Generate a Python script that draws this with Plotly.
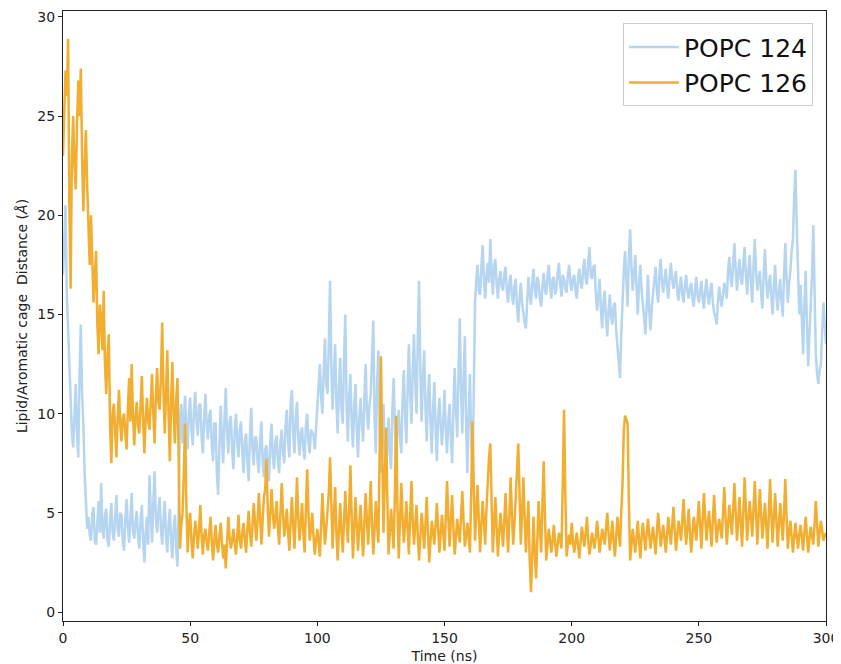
import plotly.graph_objects as go

# POPC 124 distance (Å) at whole ns 0..300
popc124 = [
    17.0, 20.5, 14.0, 11.0, 8.3, 11.5, 7.8, 14.5, 9.5, 5.4,
    4.8, 3.6, 5.3, 3.4, 5.6, 6.5, 3.7, 5.2, 3.3, 5.5,
    3.6, 5.9, 3.8, 4.9, 3.1, 5.7, 3.5, 6.0, 3.7, 5.1,
    3.2, 5.4, 2.5, 4.8, 6.9, 3.5, 7.1, 4.0, 5.8, 3.4,
    5.6, 3.0, 5.2, 2.7, 4.9, 2.3, 9.8, 8.5, 10.9, 8.2,
    10.8, 8.4, 11.1, 8.9, 10.5, 8.0, 11.0, 8.7, 10.2, 7.6,
    9.5, 5.9, 10.4, 7.5, 11.3, 8.0, 9.9, 7.2, 10.0, 7.8,
    9.6, 7.0, 9.0, 6.6, 10.3, 7.4, 8.8, 7.0, 9.6, 6.8,
    8.4, 6.6, 9.5, 7.2, 8.9, 7.0, 9.2, 7.5, 10.2, 7.8,
    11.2, 8.0, 10.6, 7.9, 9.3, 7.7, 10.0, 8.0, 9.0, 8.2,
    9.8, 12.5, 10.0, 13.8, 11.0, 16.7, 10.2, 13.5, 9.0, 12.8,
    9.5, 15.0, 8.6, 12.0, 8.3, 11.5, 7.8, 10.8, 8.6, 12.5,
    9.2, 11.0, 14.7, 8.0, 13.2, 7.0, 10.5, 6.6, 9.8, 7.2,
    11.8, 7.5, 10.2, 8.0, 12.2, 8.5, 13.5, 9.5, 14.0, 10.0,
    16.7, 9.6, 13.2, 8.6, 12.0, 8.0, 11.6, 7.6, 10.8, 8.4,
    11.2, 8.0, 10.5, 7.5, 12.3, 8.8, 14.8, 9.0, 13.9, 7.0,
    12.0, 6.8, 15.5, 17.5, 16.0, 18.5, 15.8, 17.6, 18.8, 16.0,
    17.8, 15.8, 17.2, 16.2, 17.4, 15.6, 17.0, 15.5, 16.8, 14.6,
    16.6, 15.0, 14.3, 16.9, 15.5, 17.3, 15.8, 16.6, 15.4, 17.1,
    16.0, 17.5, 15.8, 16.9, 16.3, 17.6, 15.9, 16.8, 16.1, 17.5,
    16.2, 17.0, 15.8, 17.3, 16.3, 17.8, 16.5, 18.4, 16.8, 17.5,
    15.2, 16.8, 14.3, 16.2, 13.9, 16.0, 14.5, 15.6, 13.5, 11.8,
    16.0, 18.2, 15.4, 19.3, 16.2, 18.0, 15.0, 17.5, 15.6, 14.0,
    17.0, 14.2, 16.0, 17.4, 15.6, 17.8, 16.1, 17.3, 15.8, 17.6,
    16.3, 17.2, 15.7, 16.9, 15.6, 17.0, 15.8, 16.6, 15.4, 16.9,
    15.6, 16.7, 15.3, 16.8, 15.5, 16.6, 15.1, 14.5, 16.4, 15.4,
    16.6, 15.8, 17.9, 16.4, 18.6, 16.2, 17.8, 16.5, 18.4, 16.0,
    18.0, 15.6, 18.8, 16.2, 17.2, 15.3, 18.3, 15.8, 17.0, 15.0,
    17.5, 15.2, 16.8, 14.9, 18.6, 15.6, 17.2, 18.8, 22.3, 17.0,
    16.5, 13.0, 17.2, 12.4, 15.5, 19.5, 13.0, 11.5, 12.5, 15.6, 13.5,
]

# POPC 124 distance (Å) at half ns 0.5..299.5
popc124_half = [
    18.5, 16.0, 12.5, 9.0, 10.2, 9.0, 12.0, 11.0, 7.0, 4.2,
    3.9, 4.9, 3.6, 4.8, 4.0, 4.2, 4.9, 3.6, 4.6, 4.0,
    4.8, 4.2, 5.0, 3.6, 4.6, 4.3, 4.8, 4.1, 4.5, 3.8,
    4.6, 3.6, 4.0, 3.4, 5.2, 5.5, 4.8, 5.0, 4.2, 4.6,
    3.8, 4.4, 3.6, 4.2, 3.2, 5.5, 10.5, 9.8, 9.0, 10.1,
    9.2, 10.2, 9.6, 10.4, 8.8, 9.8, 9.4, 9.9, 8.4, 9.5,
    7.0, 8.4, 8.6, 9.8, 9.0, 9.6, 8.2, 9.1, 8.6, 9.2,
    8.0, 8.6, 7.5, 8.9, 8.2, 8.8, 7.6, 8.7, 7.5, 8.2,
    7.4, 8.6, 7.8, 8.5, 7.6, 8.6, 8.0, 9.4, 8.6, 10.5,
    9.0, 9.8, 8.8, 9.0, 8.2, 9.4, 8.6, 9.2, 8.9, 9.3,
    11.2, 10.8, 12.2, 11.5, 13.5, 12.5, 12.0, 10.5, 11.4, 10.2,
    12.8, 10.5, 10.8, 9.6, 10.4, 9.2, 9.8, 9.4, 10.8, 10.0,
    10.4, 12.8, 9.8, 11.5, 9.5, 8.8, 8.2, 8.5, 8.0, 10.2,
    9.5, 9.4, 8.8, 10.6, 10.0, 11.2, 11.0, 12.2, 11.6, 13.8,
    12.2, 11.8, 10.4, 10.8, 9.6, 10.2, 9.2, 9.8, 9.4, 9.6,
    9.2, 9.6, 8.8, 10.2, 10.2, 12.0, 11.2, 11.8, 9.5, 10.0,
    8.8, 11.0, 16.8, 16.2, 17.4, 16.8, 17.0, 16.6, 17.2, 17.4,
    16.5, 16.8, 16.4, 17.0, 16.2, 16.6, 16.0, 16.4, 15.4, 15.8,
    15.6, 14.6, 15.8, 16.0, 16.6, 16.2, 16.9, 15.8, 16.4, 16.2,
    17.0, 16.4, 16.8, 16.0, 17.1, 16.5, 17.0, 16.3, 17.0, 16.6,
    16.8, 16.2, 16.8, 16.6, 17.2, 16.8, 17.6, 17.0, 17.4, 16.0,
    16.0, 15.2, 15.6, 14.8, 15.2, 14.9, 15.4, 14.2, 12.6, 14.0,
    17.2, 16.4, 18.0, 17.4, 17.0, 16.4, 16.6, 16.2, 14.8, 15.8,
    15.2, 15.4, 16.8, 16.2, 17.0, 16.6, 16.8, 16.4, 16.9, 16.8,
    16.8, 16.2, 16.4, 16.0, 16.4, 16.2, 16.3, 15.8, 16.2, 16.0,
    16.2, 15.8, 16.2, 15.9, 16.2, 15.6, 14.9, 15.6, 15.8, 16.0,
    16.2, 17.2, 16.8, 17.6, 17.2, 17.2, 16.8, 17.6, 17.0, 17.2,
    16.6, 17.4, 17.2, 16.8, 16.0, 17.0, 16.8, 16.5, 15.9, 16.4,
    16.0, 16.2, 15.6, 17.0, 16.8, 16.6, 18.2, 21.0, 19.5, 15.0,
    14.5, 15.5, 14.6, 14.0, 17.0, 16.5, 12.0, 12.2, 14.2, 14.5,
]

# POPC 126 distance (Å) at whole ns 0..300
popc126 = [
    23.0, 27.3, 28.9, 16.3, 25.0, 21.3, 26.8, 27.4, 20.2, 24.3,
    19.0, 20.0, 15.6, 18.2, 13.0, 14.8, 16.2, 11.0, 14.0, 7.5,
    10.5, 7.8, 11.2, 8.6, 10.0, 8.2, 11.8, 12.5, 8.4, 10.6,
    9.0, 11.9, 8.0, 10.8, 9.2, 12.0, 8.5, 12.3, 10.2, 14.6,
    9.0, 13.2, 7.6, 12.6, 8.5, 11.8, 3.2, 5.0, 9.5, 3.0,
    5.0, 2.7, 4.6, 3.2, 5.4, 2.9, 4.2, 3.1, 4.8, 2.6,
    4.4, 3.0, 4.5, 2.7, 2.2, 4.8, 3.2, 4.2, 2.9, 4.9,
    3.2, 4.5, 3.0, 5.1, 3.3, 5.5, 3.6, 6.0, 3.4, 5.8,
    7.7, 3.8, 6.2, 4.2, 5.6, 3.4, 6.5, 3.8, 5.2, 3.1,
    5.8, 3.2, 6.8, 3.6, 5.5, 3.0, 7.2, 3.6, 5.0, 2.9,
    4.2, 2.8, 6.0, 3.4, 5.2, 7.8, 3.2, 6.3, 2.6, 5.5,
    3.0, 6.1, 3.5, 7.4, 2.7, 5.8, 3.1, 5.4, 2.8, 6.0,
    3.4, 6.6, 2.9, 5.6, 3.5, 12.9, 4.0, 9.3, 2.9, 5.2,
    3.2, 9.9, 2.7, 6.5, 3.5, 5.6, 2.9, 6.6, 3.4, 5.4,
    2.6, 5.0, 3.2, 5.8, 2.5, 4.6, 3.4, 5.5, 3.0, 4.9,
    3.1, 6.6, 3.3, 5.9, 2.9, 4.7, 3.5, 6.1, 3.3, 4.5,
    3.0, 9.6, 3.6, 6.4, 3.0, 5.6, 3.4, 7.0, 8.5, 3.0,
    5.8, 2.8, 5.0, 3.3, 6.0, 3.0, 6.8, 3.4, 5.6, 8.5,
    3.4, 6.8, 3.0, 5.6, 1.0, 4.8, 1.7, 5.6, 3.0, 7.6,
    2.6, 4.2, 3.0, 4.4, 2.8, 4.0, 3.2, 10.2, 2.8, 3.9,
    4.5, 3.0, 4.0, 2.7, 4.3, 3.3, 4.8, 2.9, 4.0, 3.2,
    4.6, 3.0, 4.2, 3.4, 5.0, 3.1, 4.6, 2.8, 4.8, 3.3,
    6.5, 9.9, 9.5, 2.6, 4.2, 3.0, 4.6, 2.7, 4.5, 3.1,
    4.7, 3.2, 4.3, 2.9, 5.0, 3.3, 4.4, 3.0, 4.8, 3.4,
    5.3, 3.1, 4.6, 3.6, 5.7, 3.4, 5.2, 3.0, 4.8, 3.6,
    5.6, 3.2, 6.0, 3.6, 5.1, 3.3, 5.9, 3.5, 4.7, 3.7,
    6.3, 3.4, 5.4, 3.9, 6.5, 3.6, 5.8, 3.3, 6.8, 3.6,
    5.6, 3.8, 6.6, 3.4, 6.2, 3.7, 5.5, 3.2, 6.7, 3.5,
    6.0, 3.3, 5.5, 3.6, 6.7, 3.2, 4.6, 3.0, 4.5, 3.2,
    4.4, 3.1, 4.8, 3.0, 4.3, 3.4, 5.6, 3.3, 4.6, 3.6, 4.0,
]

# POPC 126 distance (Å) at half ns 0.5..299.5
popc126_half = [
    25.5, 26.0, 20.5, 23.0, 22.5, 24.5, 25.0, 23.0, 22.5, 21.5,
    17.5, 17.2, 17.0, 14.5, 15.5, 13.2, 12.5, 13.0, 9.5, 10.0,
    9.2, 9.8, 9.5, 9.8, 9.0, 10.2, 9.6, 10.0, 9.8, 9.4,
    10.4, 9.6, 9.8, 9.6, 10.6, 10.0, 10.8, 10.6, 11.8, 11.2,
    11.0, 10.0, 10.5, 10.0, 10.6, 7.5, 4.4, 7.0, 5.5, 4.4,
    3.6, 3.8, 4.0, 4.2, 3.8, 3.9, 3.5, 4.0, 3.6, 3.6,
    3.4, 3.8, 3.5, 3.4, 3.5, 3.8, 3.6, 3.5, 3.8, 3.6,
    4.0, 3.6, 4.2, 4.0, 4.4, 4.5, 4.6, 4.8, 4.6, 6.2,
    5.2, 5.0, 5.0, 4.8, 4.2, 5.0, 5.0, 4.4, 4.0, 4.6,
    4.4, 4.8, 4.8, 4.5, 4.0, 5.2, 5.0, 4.2, 3.8, 3.6,
    3.5, 4.4, 4.6, 4.2, 6.0, 5.2, 4.8, 4.0, 4.2, 4.0,
    4.6, 4.6, 5.2, 4.8, 4.2, 4.4, 4.4, 4.0, 4.5, 4.6,
    5.0, 4.4, 4.2, 4.4, 8.0, 8.5, 6.5, 5.8, 4.0, 4.2,
    6.0, 5.2, 4.6, 4.8, 4.4, 4.2, 4.8, 4.6, 4.4, 3.8,
    3.8, 4.2, 4.4, 4.0, 3.6, 4.0, 4.4, 4.2, 4.0, 4.0,
    4.8, 4.8, 4.6, 4.2, 3.8, 4.0, 4.8, 4.6, 3.8, 3.8,
    6.0, 6.4, 5.0, 4.6, 4.4, 4.6, 5.2, 7.8, 5.6, 4.4,
    4.2, 4.0, 4.2, 4.6, 4.4, 4.8, 5.0, 4.4, 7.0, 6.0,
    5.0, 4.8, 4.4, 2.6, 2.8, 3.0, 3.6, 4.2, 5.4, 4.8,
    3.4, 3.6, 3.6, 3.5, 3.4, 3.6, 6.5, 6.0, 3.4, 3.4,
    3.6, 3.5, 3.4, 3.5, 3.8, 4.0, 3.6, 3.4, 3.6, 3.8,
    3.8, 3.6, 3.8, 4.2, 4.0, 3.8, 3.6, 3.8, 4.0, 5.0,
    9.2, 9.7, 5.5, 3.4, 3.6, 3.8, 3.6, 3.8, 3.8, 4.0,
    3.9, 3.8, 3.6, 4.0, 4.2, 3.8, 3.7, 3.9, 4.0, 4.3,
    4.2, 3.8, 4.2, 4.6, 4.4, 4.2, 4.0, 3.9, 4.2, 4.6,
    4.4, 4.6, 4.8, 4.4, 4.2, 4.6, 4.6, 4.2, 4.2, 5.0,
    4.8, 4.4, 4.6, 5.2, 5.0, 4.6, 4.5, 5.0, 5.2, 4.6,
    4.8, 5.2, 5.0, 4.8, 4.9, 4.6, 4.4, 4.8, 5.0, 4.8,
    4.6, 4.4, 4.6, 5.0, 4.8, 4.0, 3.8, 3.8, 3.8, 3.9,
    3.8, 4.0, 3.9, 3.7, 3.8, 4.4, 4.4, 4.0, 4.1, 3.8,
]

x_ticks = [0, 50, 100, 150, 200, 250, 300]
y_ticks = [0, 5, 10, 15, 20, 25, 30]


def interleave(whole, half):
    """Merge whole-ns and half-ns samples into one time-ordered series."""
    t, v = [], []
    for i, val in enumerate(whole):
        t.append(i)
        v.append(val)
        if i < len(half):
            t.append(i + 0.5)
            v.append(half[i])
    return t, v


t124, v124 = interleave(popc124, popc124_half)
t126, v126 = interleave(popc126, popc126_half)

BLUE = "rgb(182,213,240)"
ORANGE = "rgb(241,174,48)"

fig = go.Figure()
fig.add_trace(go.Scatter(x=t124, y=v124, mode="lines", name="POPC 124",
                         line=dict(color=BLUE, width=2.5)))
fig.add_trace(go.Scatter(x=t126, y=v126, mode="lines", name="POPC 126",
                         line=dict(color=ORANGE, width=2.5)))

axis_common = dict(showgrid=False, zeroline=False, showline=True, linecolor="#222",
                   linewidth=1.2, mirror=True, ticks="outside", ticklen=4,
                   tickcolor="#222", tickfont=dict(size=14, color="#222"),
                   automargin=False)

# The page body adds an 8px offset; the figure is sized to end at the window edge.
fig.update_layout(
    width=833, height=656,
    margin=dict(l=55, r=15, t=3, b=43),
    paper_bgcolor="white", plot_bgcolor="white",
    font=dict(family="DejaVu Sans", color="#222"),
    xaxis=dict(range=[0, 300], tickvals=x_ticks,
               title=dict(text="Time (ns)", font=dict(size=14), standoff=6),
               **axis_common),
    yaxis=dict(range=[-0.45, 30.3], tickvals=y_ticks,
               title=dict(text="Lipid/Aromatic cage\u00a0 Distance (<i>Å</i>)",
                          font=dict(size=14), standoff=6),
               **axis_common),
    legend=dict(x=0.983, y=0.98, xanchor="right", yanchor="top",
                font=dict(size=25, color="#111"), bgcolor="rgba(255,255,255,0.85)",
                bordercolor="#ccc", borderwidth=1, itemwidth=50,
                tracegroupgap=0),
    showlegend=True,
)

fig.write_html("out.html")
